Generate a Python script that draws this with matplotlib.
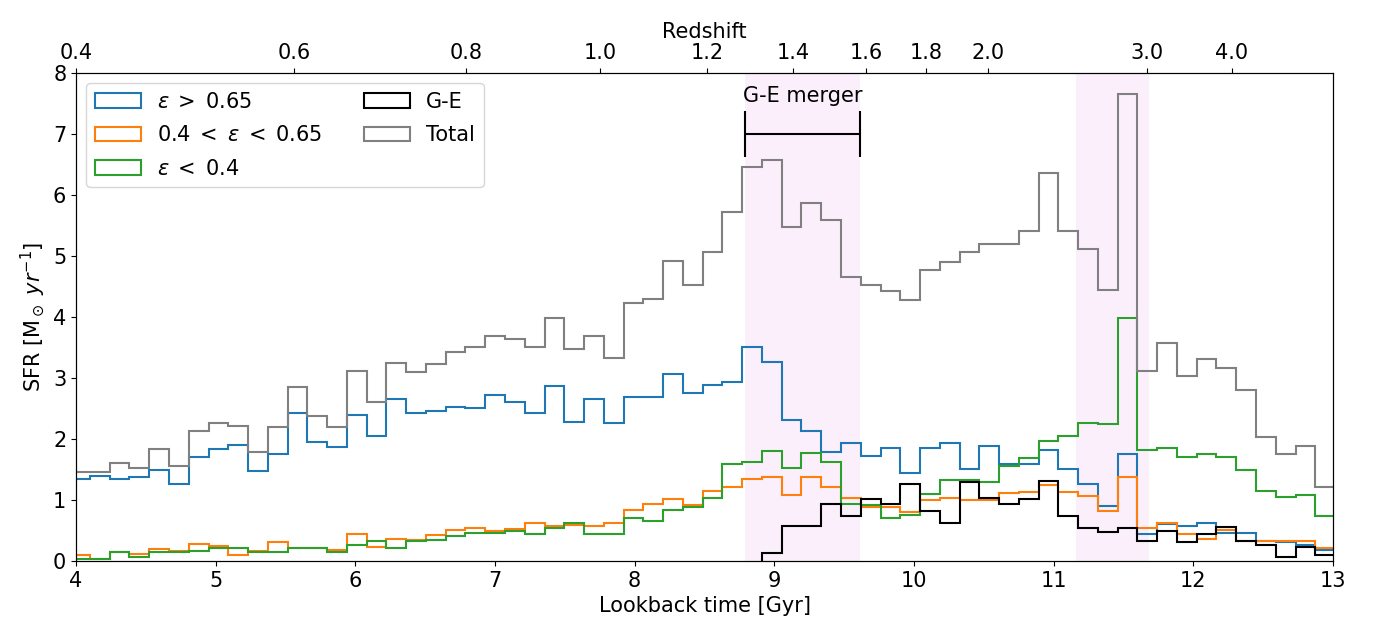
"""
Star formation history split by circularity, with the G-E merger marked
"""

import numpy as np
import matplotlib
matplotlib.use("Agg")
import matplotlib.pyplot as plt

# %%
# Binned SFR (Msun/yr); 64 bins of ~0.1415 Gyr in lookback time.

bin_width = 0.1415
first_edge = 4.1 - bin_width
edges = first_edge + bin_width * np.arange(65)

sfr_high = [1.35, 1.39, 1.34, 1.37, 1.49, 1.26, 1.70, 1.84, 1.90, 1.47, 1.75, 2.43, 1.95, 1.87, 2.39, 2.05,
            2.65, 2.43, 2.46, 2.52, 2.50, 2.72, 2.61, 2.43, 2.87, 2.27, 2.65, 2.26, 2.68, 2.69, 3.06, 2.75,
            2.88, 2.93, 3.50, 3.26, 2.31, 2.13, 1.79, 1.93, 1.72, 1.86, 1.44, 1.86, 1.93, 1.50, 1.89, 1.59,
            1.59, 1.82, 1.51, 1.27, 0.90, 1.75, 0.45, 0.61, 0.57, 0.62, 0.46, 0.46, 0.32, 0.31, 0.26, 0.18]
sfr_mid = [0.10, 0.04, 0.14, 0.11, 0.19, 0.16, 0.28, 0.25, 0.10, 0.17, 0.31, 0.21, 0.22, 0.18, 0.44, 0.23,
           0.36, 0.34, 0.43, 0.51, 0.54, 0.49, 0.52, 0.63, 0.57, 0.59, 0.58, 0.63, 0.84, 0.93, 1.01, 0.91,
           1.15, 1.21, 1.34, 1.38, 1.08, 1.38, 1.22, 1.03, 0.89, 0.89, 0.81, 1.00, 1.03, 1.00, 1.00, 1.11,
           1.13, 1.25, 1.13, 1.06, 0.82, 1.38, 0.54, 0.63, 0.45, 0.36, 0.51, 0.33, 0.33, 0.32, 0.32, 0.22]
sfr_low = [0.03, 0.03, 0.15, 0.06, 0.15, 0.14, 0.17, 0.21, 0.22, 0.15, 0.14, 0.22, 0.22, 0.15, 0.27, 0.32,
           0.22, 0.33, 0.34, 0.41, 0.46, 0.46, 0.49, 0.45, 0.54, 0.62, 0.45, 0.45, 0.70, 0.66, 0.84, 0.88,
           1.04, 1.59, 1.63, 1.80, 1.52, 1.77, 1.63, 0.94, 0.91, 0.71, 0.75, 1.10, 1.32, 1.32, 1.30, 1.56,
           1.69, 1.97, 2.05, 2.26, 2.24, 3.98, 1.82, 1.85, 1.71, 1.76, 1.71, 1.49, 1.14, 1.05, 1.09, 0.74]
sfr_total = [1.46, 1.46, 1.60, 1.53, 1.83, 1.55, 2.13, 2.26, 2.22, 1.79, 2.20, 2.85, 2.38, 2.19, 3.11, 2.61,
             3.24, 3.10, 3.23, 3.42, 3.51, 3.68, 3.63, 3.51, 3.98, 3.47, 3.68, 3.33, 4.22, 4.29, 4.92, 4.53,
             5.07, 5.72, 6.46, 6.57, 5.48, 5.86, 5.59, 4.65, 4.53, 4.42, 4.27, 4.77, 4.90, 5.07, 5.19, 5.20,
             5.41, 6.35, 5.41, 5.11, 4.44, 7.65, 3.12, 3.58, 3.03, 3.31, 3.16, 2.80, 2.04, 1.76, 1.89, 1.22]
# G-E stars only appear from bin 35 on
ge_first_bin = 35
sfr_ge = [0.13, 0.57, 0.57, 0.93, 0.74, 1.01, 0.94, 1.27, 0.82, 0.62, 1.30, 1.03, 0.93,
          1.01, 1.31, 0.73, 0.54, 0.48, 0.54, 0.32, 0.49, 0.31, 0.45, 0.56, 0.33, 0.26, 0.06, 0.23, 0.10]

# redshift ticks for the top axis and where they fall in lookback time
z_labels = ["0.4", "0.6", "0.8", "1.0", "1.2", "1.4", "1.6", "1.8", "2.0", "3.0", "4.0"]
z_lookback = [4.0, 5.56, 6.79, 7.754, 8.52, 9.135, 9.655, 10.087, 10.53, 11.667, 12.275]

merger_span = (8.79, 9.61)
burst_span = (11.163, 11.683)

# %%
# Plot

plt.rcParams["font.size"] = 15
fig, ax = plt.subplots(figsize=(13.74, 6.33), dpi=100)
fig.subplots_adjust(left=0.0553, right=0.9702, top=0.885, bottom=0.1137)

ax.axvspan(*merger_span, color="violet", alpha=0.12, lw=0)
ax.axvspan(*burst_span, color="violet", alpha=0.12, lw=0)

centers = 0.5 * (edges[:-1] + edges[1:])
ax.hist(centers, bins=edges, weights=sfr_high, histtype="step", lw=1.5,
        color="tab:blue", label=r"$\epsilon\;>\;0.65$")
ax.hist(centers, bins=edges, weights=sfr_mid, histtype="step", lw=1.5,
        color="tab:orange", label=r"$0.4\;<\;\epsilon\;<\;0.65$")
ax.hist(centers, bins=edges, weights=sfr_low, histtype="step", lw=1.5,
        color="tab:green", label=r"$\epsilon\;<\;0.4$")
ax.hist(centers[ge_first_bin:], bins=edges[ge_first_bin:], weights=sfr_ge, histtype="step", lw=1.5,
        color="black", label="G-E")
ax.hist(centers, bins=edges, weights=sfr_total, histtype="step", lw=1.5,
        color="gray", label="Total")

# merger bracket
mid = 0.5 * (merger_span[0] + merger_span[1])
ax.errorbar(mid, 7.0, xerr=0.5 * (merger_span[1] - merger_span[0]), color="black",
            capsize=16.5, capthick=1.5, lw=1.5)
ax.text(mid, 7.62, "G-E merger", ha="center", va="center")

ax.set_xlim(4, 13)
ax.set_ylim(0, 8)
ax.set_xlabel("Lookback time [Gyr]")
ax.set_ylabel(r"SFR [M$_\odot$ $yr^{-1}$]")
ax.legend(loc="upper left", ncol=2, labelspacing=0.65, handlelength=2.2)

ax2 = ax.twiny()
ax2.set_xlim(ax.get_xlim())
ax2.set_xticks(z_lookback)
ax2.set_xticklabels(z_labels)
ax2.set_xlabel("Redshift")

fig.savefig("out.png")
